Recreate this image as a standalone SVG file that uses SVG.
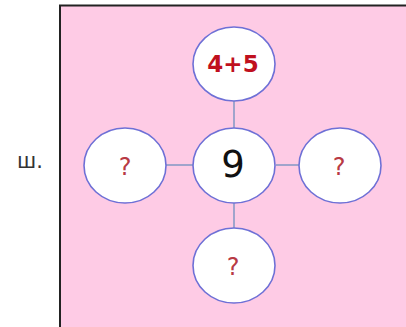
<svg xmlns="http://www.w3.org/2000/svg" width="406" height="327" viewBox="0 0 406 327">
<style>
.node ellipse{fill:#ffffff;stroke:#6e70d6;stroke-width:1.6}
.q{font-family:"DejaVu Sans",sans-serif;font-size:24px;fill:#b83a44;text-anchor:middle}
#connectors line{stroke:#a0a4cc;stroke-width:2}
</style>
<rect x="0" y="0" width="406" height="327" fill="#ffffff"/>
<rect x="60" y="5.5" width="360" height="340" fill="#fecbe5" stroke="#222222" stroke-width="2"/>
<text x="17" y="168" font-family="DejaVu Sans, sans-serif" font-size="21" fill="#333333">ш.</text>
<g id="connectors">
<line x1="234" y1="101" x2="234" y2="128"/>
<line x1="166" y1="165" x2="193" y2="165"/>
<line x1="276" y1="165" x2="299" y2="165"/>
<line x1="234" y1="203" x2="234" y2="228"/>
</g>
<g id="top" class="node"><ellipse cx="234" cy="64" rx="41" ry="37"/><text x="233" y="72" font-family="DejaVu Sans, sans-serif" font-size="23" font-weight="bold" fill="#c0101e" text-anchor="middle">4+5</text></g>
<g id="center" class="node"><ellipse cx="234" cy="165.5" rx="41" ry="37.5"/><text x="233" y="177" font-family="DejaVu Sans, sans-serif" font-size="37" fill="#111111" text-anchor="middle">9</text></g>
<g id="left" class="node"><ellipse cx="125" cy="165.5" rx="41" ry="37.5"/><text class="q" x="125" y="175">?</text></g>
<g id="right" class="node"><ellipse cx="340" cy="165.5" rx="41" ry="37.5"/><text class="q" x="339" y="175">?</text></g>
<g id="bottom" class="node"><ellipse cx="234" cy="265.5" rx="41" ry="37.5"/><text class="q" x="233" y="275">?</text></g>
</svg>
